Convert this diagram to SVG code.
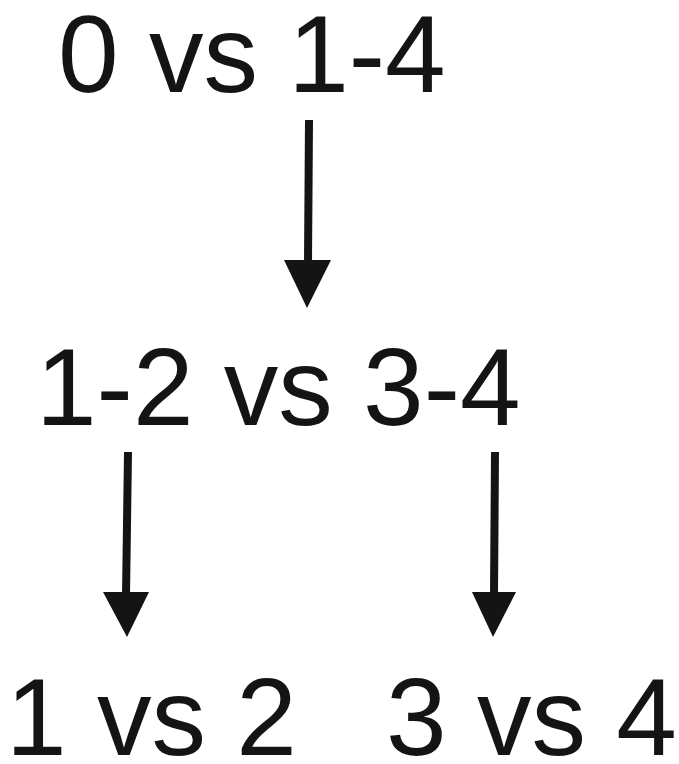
<svg xmlns="http://www.w3.org/2000/svg" width="679" height="764" viewBox="0 0 679 764">
  <style>
    .lbl { font-family: "Liberation Sans", Arial, sans-serif; font-size: 109px; fill: #141414; }
    .shaft { stroke: #141414; stroke-width: 8; fill: none; }
    .head { fill: #141414; }
  </style>
  <rect width="679" height="764" fill="#ffffff"/>
  <g id="connectors">
    <g id="edge-top-mid">
      <line class="shaft" x1="309" y1="120" x2="308" y2="264"/>
      <polygon class="head" points="284,260 331,260 307,308"/>
    </g>
    <g id="edge-mid-left">
      <line class="shaft" x1="128" y1="452" x2="126" y2="596"/>
      <polygon class="head" points="103,592 149,592 127,637"/>
    </g>
    <g id="edge-mid-right">
      <line class="shaft" x1="495" y1="452" x2="494" y2="596"/>
      <polygon class="head" points="472,592 516,592 493,637"/>
    </g>
  </g>
  <g id="node-root">
    <text class="lbl" x="58" y="92" font-size="108">0 vs 1-4</text>
  </g>
  <g id="node-mid">
    <text class="lbl" x="36" y="425">1-2 vs 3-4</text>
  </g>
  <g id="node-left">
    <text class="lbl" x="6" y="755">1 vs 2</text>
  </g>
  <g id="node-right">
    <text class="lbl" x="386" y="755">3 vs 4</text>
  </g>
</svg>
